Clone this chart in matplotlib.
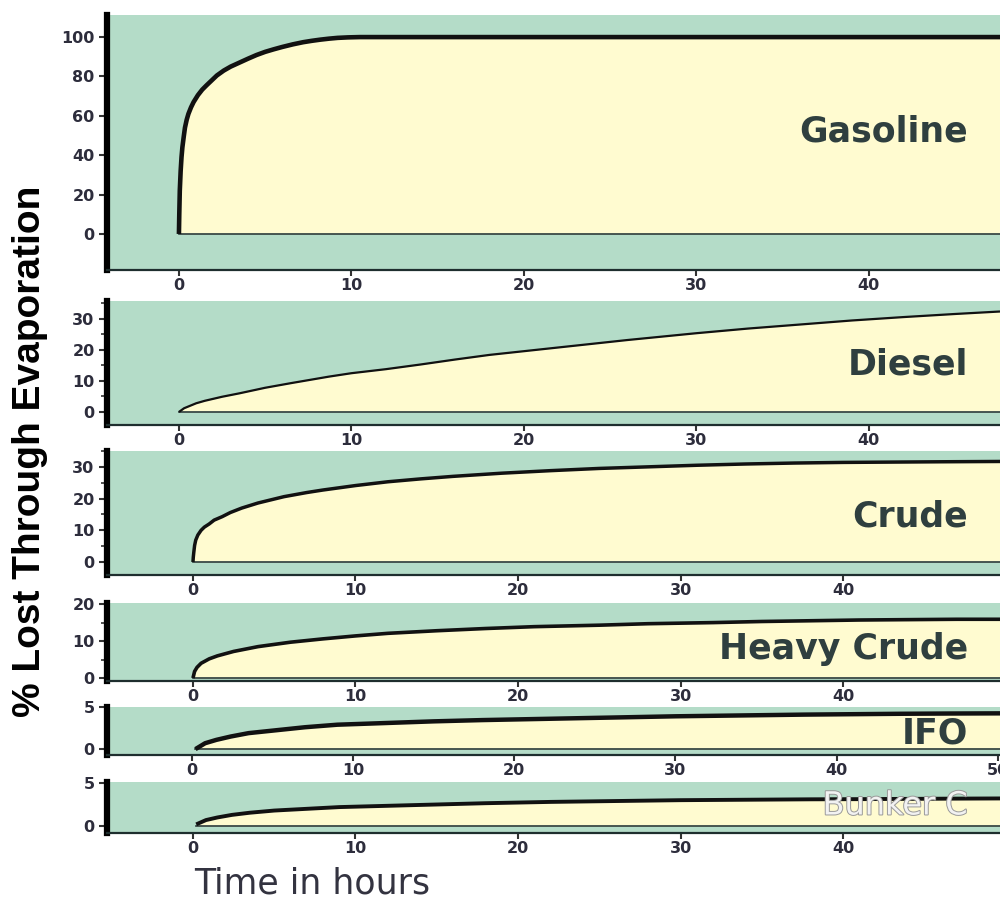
import matplotlib.pyplot as plt
import matplotlib.patheffects as pe
from matplotlib.ticker import MultipleLocator


# curves: hours vs % lost
gas_t = [0, 0.02, 0.05, 0.1, 0.15, 0.2, 0.28, 0.35, 0.45, 0.55, 0.7, 0.85, 1.1, 1.35, 1.6, 1.9,
         2.2, 2.6, 3, 3.5, 4, 4.5, 5, 5.5, 6, 6.6, 7.2, 7.7, 8.2, 8.7, 9.2, 9.8, 10.5, 48]
gas_y = [0, 10, 22, 32, 39, 44, 49.5, 54, 58, 61, 64.3, 67, 70.5, 73.3, 75.5, 78,
         80.5, 83, 85, 87, 89, 90.9, 92.5, 93.8, 95, 96.3, 97.4, 98.1, 98.7, 99.2, 99.6, 99.85, 100, 100]

diesel_t = [0, 0.3, 1, 1.5, 2.5, 3.5, 5, 6.5, 8.7, 10, 12, 14, 16, 18, 20, 22, 24, 26, 28,
            30, 33, 36, 39, 42, 45, 47.6]
diesel_y = [0, 1.2, 2.8, 3.6, 4.9, 6, 7.8, 9.3, 11.4, 12.5, 13.8, 15.3, 16.9, 18.4, 19.6, 20.8,
            22, 23.2, 24.3, 25.4, 26.9, 28.2, 29.5, 30.6, 31.6, 32.4]

crude_t = [0, 0.02, 0.05, 0.1, 0.17, 0.3, 0.5, 0.7, 1, 1.3, 1.8, 2.3, 3, 4, 5.6, 7, 8, 10, 12,
           14, 16, 19, 22, 25, 28, 31, 34, 37, 40, 43, 46, 49.7]
crude_y = [0, 1.5, 3, 5.2, 6.9, 8.5, 10, 11, 12, 13.2, 14.3, 15.6, 17, 18.6, 20.6, 21.9, 22.7, 24.1,
           25.3, 26.2, 27, 28, 28.8, 29.5, 30, 30.5, 30.9, 31.2, 31.4, 31.5, 31.6, 31.7]

heavy_t = [0, 0.1, 0.25, 0.5, 1, 1.5, 2.5, 4, 6, 8, 10, 12, 15, 18, 21, 25, 28, 32, 35, 38,
           41, 44, 47, 49.7]
heavy_y = [0, 1.8, 2.9, 4, 5.2, 6, 7.2, 8.5, 9.7, 10.6, 11.4, 12.1, 12.8, 13.4, 13.9, 14.3, 14.7,
           15, 15.3, 15.5, 15.7, 15.8, 15.9, 15.9]

ifo_t = [0.2, 0.8, 1.5, 2.4, 3.5, 5, 7, 9, 12, 15, 18, 22, 26, 30, 34, 38, 41, 44, 47, 50.15]
ifo_y = [0, 0.7, 1.1, 1.5, 1.9, 2.2, 2.6, 2.9, 3.1, 3.3, 3.45, 3.6, 3.75, 3.9, 4.0, 4.1, 4.15,
         4.2, 4.23, 4.25]

bunker_t = [0.2, 0.8, 1.5, 2.4, 3.5, 5, 7, 9, 12, 15, 18, 22, 26, 30, 34, 38, 41, 44, 47, 49.7]
bunker_y = [0.2, 0.7, 1.0, 1.3, 1.55, 1.8, 2.0, 2.2, 2.35, 2.5, 2.65, 2.8, 2.9, 3.0, 3.05, 3.1,
            3.12, 3.15, 3.18, 3.2]

names = ["Gasoline", "Diesel", "Crude", "Heavy Crude", "IFO", "Bunker C"]
times = [gas_t, diesel_t, crude_t, heavy_t, ifo_t, bunker_t]
values = [gas_y, diesel_y, crude_y, heavy_y, ifo_y, bunker_y]

xticks = [[0, 10, 20, 30, 40]] * 4 + [[0, 10, 20, 30, 40, 50], [0, 10, 20, 30, 40]]
yticks = [[0, 20, 40, 60, 80, 100], [0, 10, 20, 30], [0, 10, 20, 30], [0, 10, 20], [0, 5], [0, 5]]

# layout (figure fractions) and limits
rects = [(0.107, 0.700, 0.893, 0.2833),
         (0.107, 0.5278, 0.893, 0.1378),
         (0.107, 0.3611, 0.893, 0.1378),
         (0.107, 0.2433, 0.893, 0.0867),
         (0.107, 0.1611, 0.893, 0.0533),
         (0.107, 0.0744, 0.893, 0.0567)]
xlims = [(-4.17, 47.6), (-4.17, 47.6), (-5.29, 49.66), (-5.29, 49.66), (-5.29, 50.15), (-5.29, 49.66)]
ylims = [(-18.3, 111.2), (-4.2, 35.8), (-4.1, 35.0), (-0.8, 20.3), (-0.7, 5.0), (-0.8, 5.1)]
minors = [None, 5, 5, 5, None, None]
line_w = [3.3, 1.6, 2.5, 2.6, 3.2, 2.8]
label_y = [0.545, 0.484, 0.468, 0.41, 0.44, 0.53]

green = '#b4dcc8'
cream = '#fffbd0'
ink = '#2d2d3c'

fig = plt.figure(figsize=(10, 9), dpi=100)

for i in range(6):
    t = times[i]
    y = values[i]
    ax = fig.add_axes(rects[i])
    ax.set_facecolor(green)
    ax.fill_between(t, 0, y, color=cream, lw=0)
    ax.plot([t[0], t[-1]], [0, 0], color='#2a3a3a', lw=1.2)
    ax.plot(t, y, color='#111111', lw=line_w[i], solid_capstyle='butt')

    ax.set_xlim(xlims[i])
    ax.set_ylim(ylims[i])
    ax.set_xticks(xticks[i])
    ax.set_yticks(yticks[i])
    if minors[i]:
        ax.yaxis.set_minor_locator(MultipleLocator(minors[i]))
        ax.tick_params(axis='y', which='minor', length=4, width=1.2, color='#333333')

    for s in ['top', 'right']:
        ax.spines[s].set_visible(False)
    ax.spines['left'].set_linewidth(4.5)
    ax.spines['left'].set_color('black')
    ax.spines['bottom'].set_linewidth(1.6)
    ax.spines['bottom'].set_color('#1e2e2e')

    ax.tick_params(axis='y', which='major', length=6, width=1.5, pad=3, color='#333333')
    ax.tick_params(axis='x', length=4, width=1.5, pad=2, color='#333333')
    for lab in ax.get_xticklabels() + ax.get_yticklabels():
        lab.set_fontweight('bold')
        lab.set_fontsize(11.5)
        lab.set_color(ink)

    if names[i] == "Bunker C":
        ax.text(0.964, label_y[i], names[i], transform=ax.transAxes, ha='right', va='center',
                fontsize=23, color='#f2f2f2',
                path_effects=[pe.withStroke(linewidth=1.4, foreground='#999999')])
    else:
        ax.text(0.964, label_y[i], names[i], transform=ax.transAxes, ha='right', va='center',
                fontsize=25, fontweight='bold', color='#2f3f3f')

fig.text(0.03, 0.498, "% Lost Through Evaporation", rotation=90, ha='center', va='center',
         fontsize=28, fontweight='bold', family='Liberation Sans', color='black')
fig.text(0.312, 0.018, "Time in hours", ha='center', va='center', fontsize=25, color='#333340')

fig.savefig("out.png", dpi=100)
